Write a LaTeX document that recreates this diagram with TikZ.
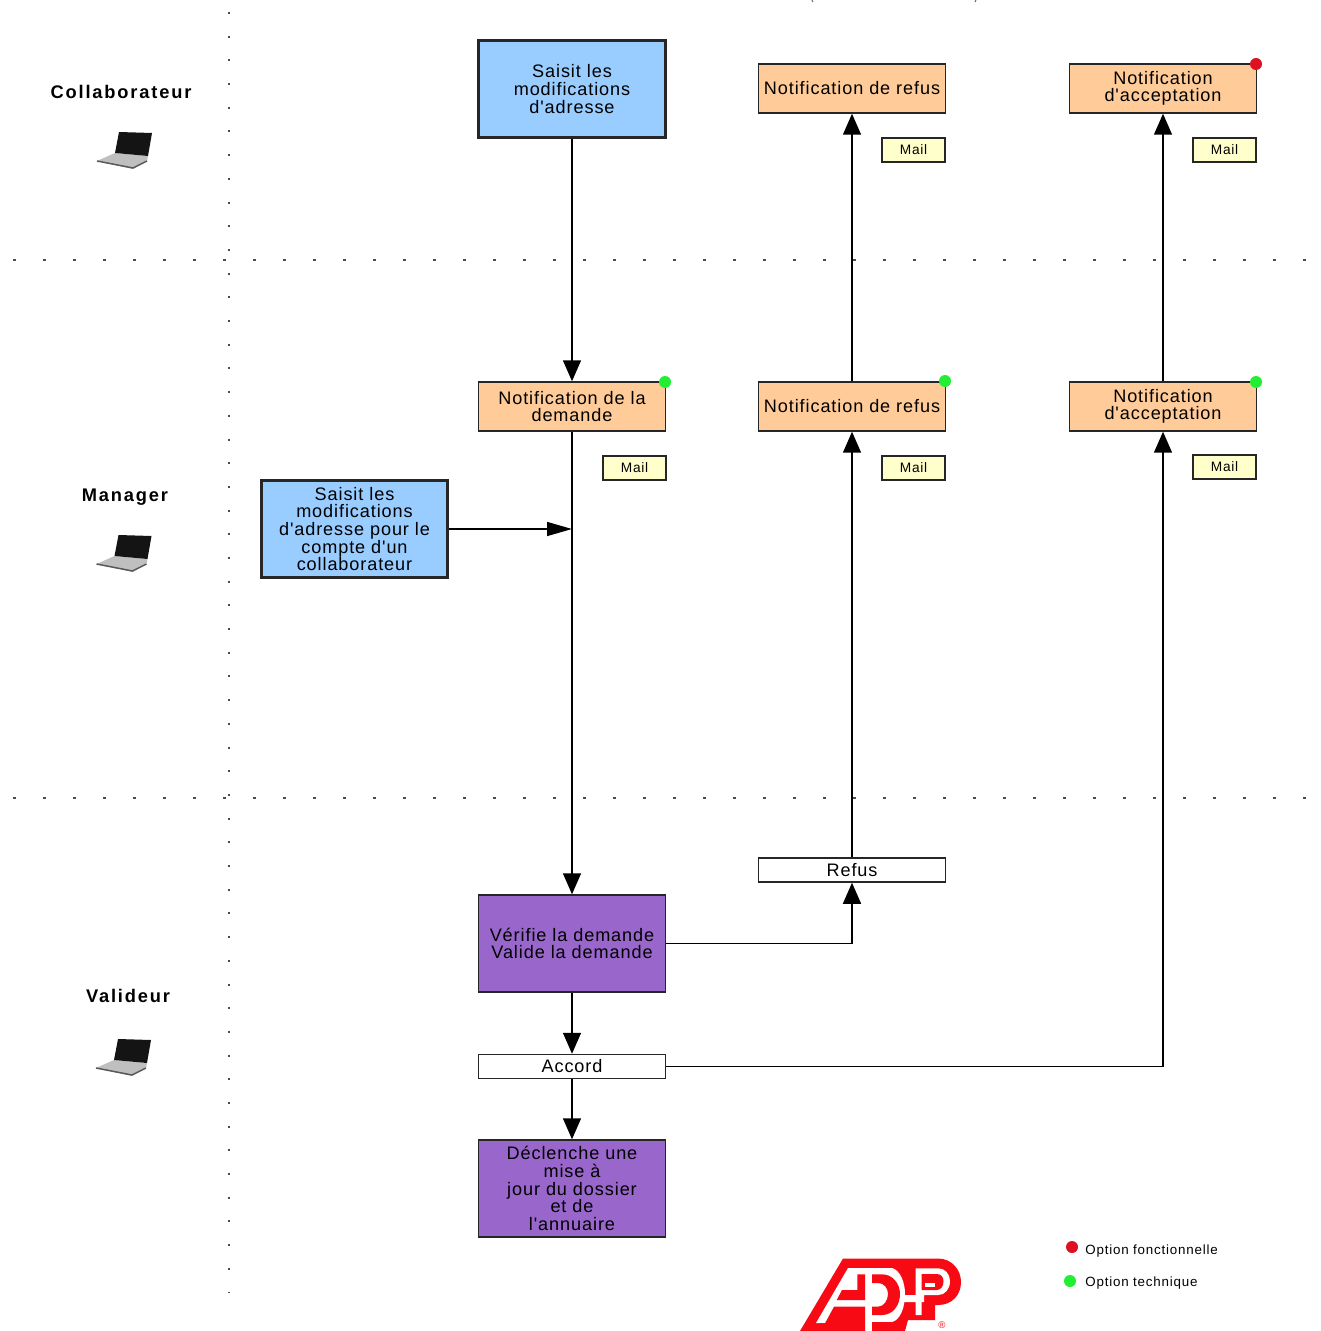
\documentclass[tikz,border=0pt]{standalone}
\usepackage{fontspec}
\newfontfamily\notefont[LetterSpace=5]{Liberation Sans}
\AtBeginDocument{\notefont}
\usetikzlibrary{arrows.meta}
\definecolor{saisiecol}{HTML}{99CCFF}
\definecolor{notifcol}{HTML}{FFCC99}
\definecolor{mailcol}{HTML}{FFFFCC}
\definecolor{validcol}{HTML}{9966CC}
\definecolor{adpred}{HTML}{F80A14}
\definecolor{dotgreen}{HTML}{22EE33}
\definecolor{dotred}{HTML}{DD1122}
\tikzset{
  box/.style={draw=black!85,line width=.03cm,inner sep=0pt,align=center,minimum width=3.74cm,font=\fontsize{10.3}{10}\selectfont},
  saisie/.style={box,fill=saisiecol,line width=.06cm,minimum height=1.94cm},
  notif/.style={box,fill=notifcol,minimum height=.98cm},
  valid/.style={box,fill=validcol,minimum height=1.94cm},
  choix/.style={box,fill=white,minimum height=.48cm},
  mail/.style={draw=black!85,line width=.03cm,fill=mailcol,inner sep=0pt,minimum width=1.26cm,minimum height=.48cm,font=\fontsize{7.8}{9}\selectfont},
  role/.style={font=\fontsize{10.4}{12}\selectfont\bfseries\addfontfeature{LetterSpace=10}},
  legende/.style={anchor=west,inner sep=0pt,font=\fontsize{7.6}{9}\selectfont\addfontfeature{LetterSpace=6}},
  point/.style={circle,inner sep=0pt,minimum size=.24cm},
  flow/.style={->,>={Triangle[length=.42cm,width=.36cm]},line width=.03cm,draw=black},
  flowh/.style={->,>={Triangle[length=.5cm,width=.28cm]},line width=.03cm,draw=black},
  sepv/.style={draw=black!70,line width=.04cm,dash pattern=on .04cm off .434cm},
  seph/.style={draw=black!70,line width=.04cm,dash pattern=on .06cm off .54cm},
  laptop/.pic={
    \fill[black!25] (-28,11)--(-10,3)--(23,6)--(22,11)--(8,19)--cycle;
    \draw[black!65,line width=.03cm] (-28,11)--(8,18)--(22,11);
    \fill[black!92] (-6,-18)--(27,-17)--(23,6)--(-10,3)--cycle;
  },
}
\begin{document}
\begin{tikzpicture}[x=.02cm,y=-.02cm]
    \useasboundingbox (0,0) rectangle (1320,1331);

    % separateurs
    \coordinate (ha) at (13,260); \coordinate (hb) at (1312,260);
    \coordinate (ka) at (13,798); \coordinate (kb) at (1312,798);
    \coordinate (va) at (229,12); \coordinate (vb) at (229,1292);
    \draw[seph] (ha)--(hb);
    \draw[seph] (ka)--(kb);
    \draw[sepv] (va)--(vb);

    % acteurs
    \node[role] (collab) at (121,92) {Collaborateur};
    \node[role] (manager) at (125,497.5) {Manager};
    \node[role] (valideur) at (128,996) {Valideur};
    \pic at (125,150) {laptop};
    \pic at (124.5,553) {laptop};
    \pic at (124,1057) {laptop};

    % etapes
    \node[saisie] (saisiecol) at (572,89) {Saisit les\\modifications\\d'adresse};
    \node[notif] (refuscol) at (852,88.5) {Notification de refus};
    \node[notif] (acceptcol) at (1163,88.5) {Notification\\d'acceptation};
    \node[notif] (demande) at (572,406.5) {Notification de la\\demande};
    \node[notif] (refusman) at (852,406.5) {Notification de refus};
    \node[notif] (acceptman) at (1163,406.5) {Notification\\d'acceptation};
    \node[saisie] (saisieman) at (354.5,529) {Saisit les\\modifications\\d'adresse pour le\\compte d'un\\collaborateur};
    \node[choix] (refus) at (852,870) {Refus};
    \node[valid] (verifie) at (572,943.5) {V\'erifie la demande\\Valide la demande};
    \node[choix] (accord) at (572,1066.5) {Accord};
    \node[valid] (declenche) at (572,1188.5) {D\'eclenche une\\mise \`a\\jour du dossier\\et de\\l'annuaire};

    % mails
    \node[mail] (mailrefuscol) at (913.5,150) {Mail};
    \node[mail] (mailacceptcol) at (1224.5,150) {Mail};
    \node[mail] (maildemande) at (634.5,468) {Mail};
    \node[mail] (mailrefusman) at (913.5,468) {Mail};
    \node[mail] (mailacceptman) at (1224.5,467) {Mail};

    % fleches
    \coordinate (jonction) at (572,529);
    \draw[flow] (saisiecol)--(demande);
    \draw[flow] (demande)--(verifie);
    \draw[flowh] (saisieman)--(jonction);
    \draw[flow] (verifie)-|(refus);
    \draw[flow] (refus)--(refusman);
    \draw[flow] (refusman)--(refuscol);
    \draw[flow] (verifie)--(accord);
    \draw[flow] (accord)--(declenche);
    \draw[flow] (accord)-|(acceptman);
    \draw[flow] (acceptman)--(acceptcol);

    % options
    \node[point,fill=dotred] (optcol) at (1256,64) {};
    \node[point,fill=dotgreen] (optdem) at (665,382) {};
    \node[point,fill=dotgreen] (optref) at (945,381) {};
    \node[point,fill=dotgreen] (optacc) at (1256,382) {};
    \node[point,fill=dotred] (legrouge) at (1072,1247) {};
    \node[point,fill=dotgreen] (legvert) at (1070,1281) {};
    \node[legende] (legfonc) at (1085,1251) {Option fonctionnelle};
    \node[legende] (legtech) at (1085,1283) {Option technique};

    % logo
    \fill[adpred] (800,1331)--(843,1258.5)--(938,1258.5) .. controls (952,1258.5) and (961,1270) .. (961,1282)
      .. controls (961,1295) and (952,1305) .. (938,1305)--(935,1305)--(935,1320)--(908,1320)--(905,1331)--cycle;
    \fill[white] (816,1323)--(848,1268)--(892,1268) .. controls (900,1270) and (905,1282) .. (905,1294)
      .. controls (905,1308) and (900,1320) .. (892,1322)--(872,1322)--(872,1331)--(865,1331)--(865,1323)--cycle;
    \fill[adpred] (857.3,1274.3)--(865,1274.3)--(865,1300)--(836.7,1300)--(842,1290)--(857.3,1290)--cycle;
    \fill[adpred] (825,1323.3)--(834,1306.7)--(865,1306.7)--(865,1331)--(820,1331)--(820,1323.3)--cycle;
    \fill[adpred] (872,1274.3)--(882,1274.3) .. controls (893,1274.3) and (900,1284) .. (900,1294)
      .. controls (900,1305) and (893,1315) .. (882,1315)--(872,1315)--(872,1306.7)--(878,1306.7)
      .. controls (884,1306.7) and (888,1300) .. (888,1294) .. controls (888,1288) and (884,1283) .. (878,1283)--(872,1283)--cycle;
    \fill[adpred] (872,1322)--(900,1322)--(905,1331)--(872,1331)--cycle;
    % P
    \fill[white] (915.7,1268.3)--(938.3,1268.3) .. controls (945,1268.3) and (950,1274) .. (950,1281)
      .. controls (950,1289) and (945,1295) .. (938.3,1295)--(924,1295)--(924,1302)--(921.7,1302)--(921.7,1315)--(915.7,1315)--(915.7,1302)--(904,1302)--(904,1295)--(915.7,1295)--cycle;
    \fill[adpred] (921.7,1274)--(936.7,1274) .. controls (941,1274) and (943.5,1277) .. (943.5,1281.5)
      .. controls (943.5,1286) and (941,1290) .. (936.7,1290)--(921.7,1290)--cycle;
    \fill[white] (925,1283)--(935,1283)--(935,1287)--(925,1287)--cycle;
    \node[text=adpred,font=\fontsize{5.5}{6}\selectfont,inner sep=0pt] (marque) at (942,1325) {\textregistered};

    % reste du titre coupe
    \coordinate (pa) at (812,0); \coordinate (pb) at (813,2);
    \coordinate (pc) at (975,2); \coordinate (pd) at (976,0);
    \draw[black!60,line width=.02cm] (pa)--(pb);
    \draw[black!60,line width=.02cm] (pc)--(pd);
\end{tikzpicture}
\end{document}
